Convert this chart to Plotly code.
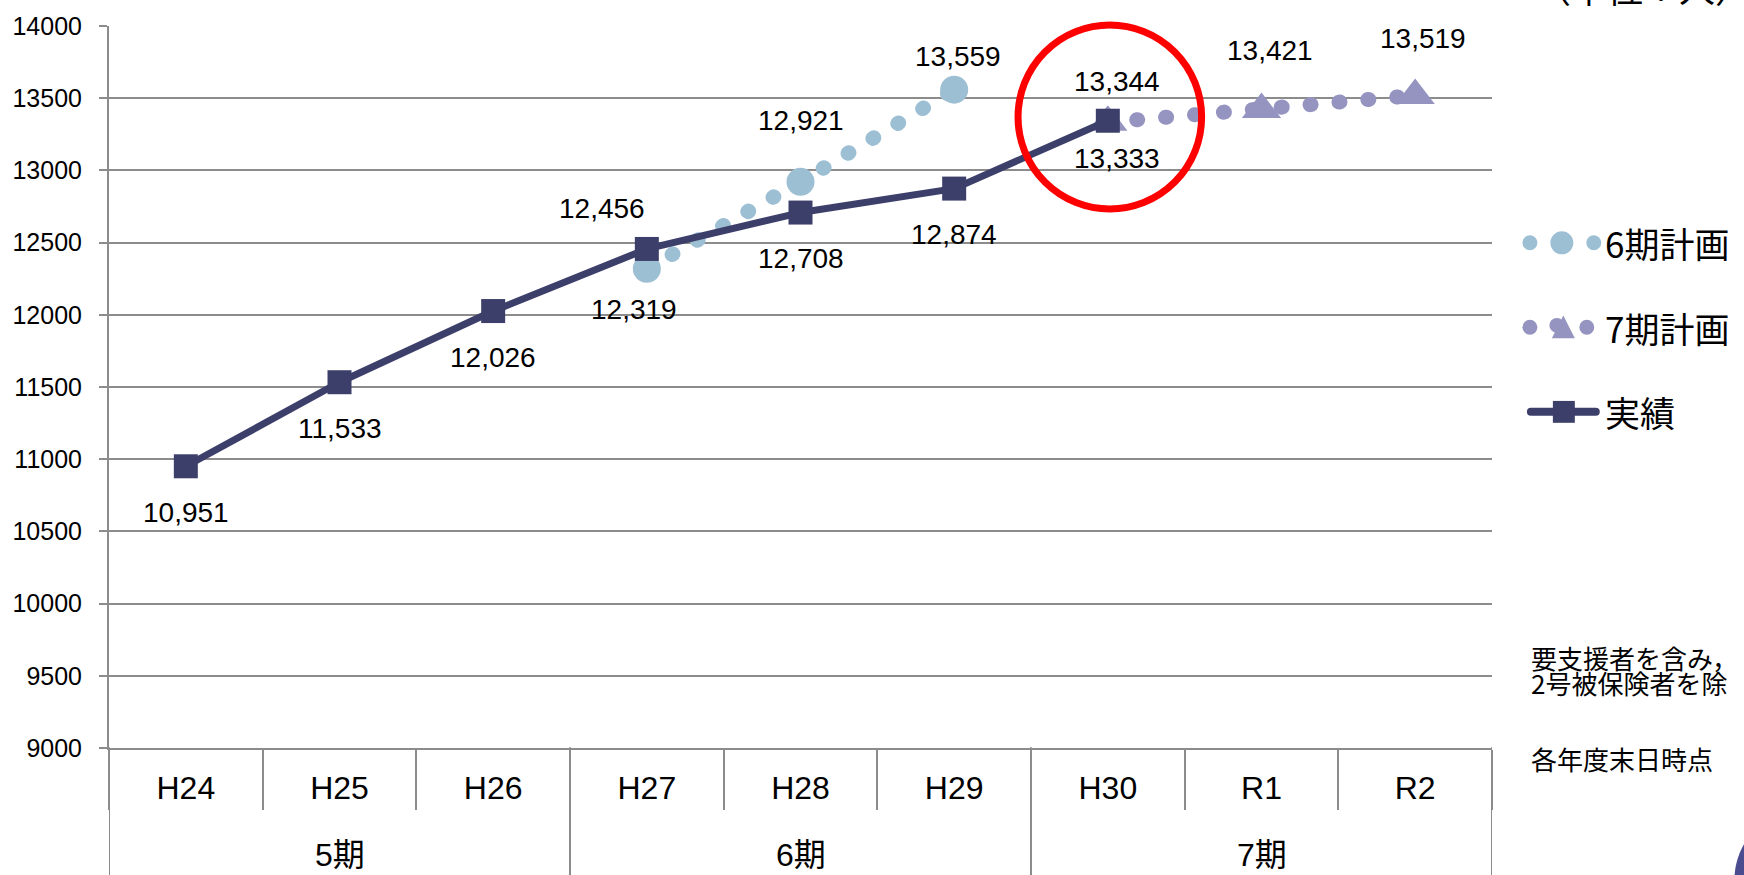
import plotly.graph_objects as go

# ---------------- data ----------------
years = ["H24", "H25", "H26", "H27", "H28", "H29", "H30", "R1", "R2"]
periods = ["5期", "5期", "5期", "6期", "6期", "6期", "7期", "7期", "7期"]

actual_years = ["H24", "H25", "H26", "H27", "H28", "H29", "H30"]
actual_values = [10951, 11533, 12026, 12456, 12708, 12874, 13344]

plan6_years = ["H27", "H28", "H29"]
plan6_values = [12319, 12921, 13559]

plan7_years = ["H30", "R1", "R2"]
plan7_values = [13333, 13421, 13519]

series_names = ["6期計画", "7期計画", "実績"]
note_lines = ["要支援者を含み，", "2号被保険者を除", "各年度末日時点"]
unit_text = "（単位：人）"

# label offsets (px) relative to the point: (xshift, yshift)
actual_label_shift = [(0, -46), (0, -46), (0, -46), (-45, 40), (0, -46), (0, -46), (9, 39)]
plan6_label_shift = [(-13, -41), (0, 61), (4, 33)]
plan7_label_shift = [(9, -36), (8, 59), (8, 57)]

# ---------------- style ----------------
C6 = "#9dbfd4"
C7 = "#9594c1"
CA = "#3d3f6b"
GRID = "#8c8c8c"
NUM_FONT = "Liberation Sans, Arial, Noto Sans CJK JP"
JP_FONT = "Noto Sans CJK JP, Liberation Sans"

W, H = 1744, 875
ML, MR, MT, MB = 106, 252, 22, 127
PW, PH = W - ML - MR, H - MT - MB


def PX(x):
    return (x - ML) / PW


def PY(y):
    return (H - MB - y) / PH


fig = go.Figure()

# category order trace (no marks)
fig.add_trace(go.Scatter(x=years, y=[None] * len(years), mode="markers",
                         showlegend=False, hoverinfo="skip"))

fig.add_trace(go.Scatter(
    x=plan6_years, y=plan6_values, name=series_names[0], mode="lines+markers",
    line=dict(color=C6, width=15, dash="1px,28px"),
    marker=dict(symbol="circle", size=28, color=C6), showlegend=False))

fig.add_trace(go.Scatter(
    x=plan7_years, y=plan7_values, name=series_names[1], mode="lines+markers",
    line=dict(color=C7, width=15, dash="1px,28px"),
    marker=dict(symbol="triangle-up", size=34, color=C7), showlegend=False))

fig.add_trace(go.Scatter(
    x=actual_years, y=actual_values, name=series_names[2], mode="lines+markers",
    line=dict(color=CA, width=7),
    marker=dict(symbol="square", size=24, color=CA), showlegend=False))

annotations = []
for ys, vals, shifts in [(actual_years, actual_values, actual_label_shift),
                         (plan6_years, plan6_values, plan6_label_shift),
                         (plan7_years, plan7_values, plan7_label_shift)]:
    for yr, v, (dx, dy) in zip(ys, vals, shifts):
        annotations.append(dict(x=yr, y=v, xref="x", yref="y", text=f"{v:,}",
                                showarrow=False, xshift=dx, yshift=dy,
                                font=dict(family=NUM_FONT, size=28, color="black")))

# period (group) labels and dividers, derived from the period list
shapes = []
groups = []
for i, p in enumerate(periods):
    if not groups or groups[-1][0] != p:
        groups.append([p, i, i])
    else:
        groups[-1][2] = i
for p, i0, i1 in groups:
    annotations.append(dict(x=(i0 + i1) / 2, y=PY(856), xref="x", yref="paper", text=p,
                            showarrow=False, yanchor="middle",
                            font=dict(family=NUM_FONT, size=32, color="black")))
bounds = [groups[0][1] - 0.5] + [g[2] + 0.5 for g in groups]
for b in bounds:
    shapes.append(dict(type="line", xref="x", yref="paper", x0=b, x1=b, y0=0, y1=PY(880),
                       line=dict(color=GRID, width=2)))

# legend texts
for name, yy in zip(series_names, [240, 325, 410]):
    annotations.append(dict(x=PX(1603), y=PY(yy), xref="paper", yref="paper", text=name,
                            showarrow=False, xanchor="left", yanchor="middle",
                            font=dict(family=JP_FONT, size=35, color="black")))

# notes
for line, yy in zip(note_lines, [657, 682, 759]):
    annotations.append(dict(x=PX(1529), y=PY(yy), xref="paper", yref="paper", text=line,
                            showarrow=False, xanchor="left", yanchor="middle",
                            font=dict(family=JP_FONT, size=26, color="black")))

annotations.append(dict(x=PX(1533), y=PY(-17), xref="paper", yref="paper", text=unit_text,
                        showarrow=False, xanchor="left", yanchor="middle",
                        font=dict(family=JP_FONT, size=36, color="black")))

# red highlight ellipse
shapes.append(dict(type="circle", xref="paper", yref="paper",
                   x0=PX(1017), x1=PX(1201), y0=PY(206), y1=PY(21),
                   line=dict(color="#ff0000", width=7)))


def dot(cx, cy, r, color):
    return dict(type="circle", xref="paper", yref="paper",
                x0=PX(cx - r), x1=PX(cx + r), y0=PY(cy + r), y1=PY(cy - r),
                fillcolor=color, line=dict(width=0))


# legend glyphs
shapes += [dot(1530, 240, 7.5, C6), dot(1562, 240, 11.5, C6), dot(1594, 240, 7.5, C6)]
shapes += [dot(1530, 325, 7.5, C7), dot(1557, 323, 7.5, C7), dot(1587, 325, 7.5, C7)]
shapes.append(dict(type="path", xref="paper", yref="paper",
                   path=f"M{PX(1552)},{PY(336)} L{PX(1575)},{PY(336)} L{PX(1563.5)},{PY(313)} Z",
                   fillcolor=C7, line=dict(width=0)))
shapes.append(dict(type="line", xref="paper", yref="paper",
                   x0=PX(1531), x1=PX(1596), y0=PY(410), y1=PY(410),
                   line=dict(color=CA, width=8)))
shapes.append(dict(type="rect", xref="paper", yref="paper",
                   x0=PX(1553), x1=PX(1575), y0=PY(421), y1=PY(399),
                   fillcolor=CA, line=dict(width=0)))
# page badge at bottom right edge
shapes.append(dict(type="circle", xref="paper", yref="paper",
                   x0=PX(1735), x1=PX(1875), y0=PY(950), y1=PY(810),
                   fillcolor="#4b4b8f", line=dict(width=0)))

fig.update_layout(
    width=W, height=H,
    margin=dict(l=ML, r=MR, t=MT, b=MB, pad=0),
    paper_bgcolor="white", plot_bgcolor="white",
    showlegend=False,
    annotations=annotations, shapes=shapes,
    xaxis=dict(type="category", range=[-0.5, 8.5], autorange=False,
               showgrid=False, showline=True, linecolor=GRID, linewidth=2,
               ticks="outside", tickson="boundaries", ticklen=60, tickcolor=GRID, tickwidth=2,
               ticklabelstandoff=11,
               tickfont=dict(family=NUM_FONT, size=32, color="black")),
    yaxis=dict(range=[9000, 14000], dtick=500, tick0=9000,
               tickformat="d", showgrid=True, gridcolor=GRID, gridwidth=2,
               showline=True, linecolor=GRID, linewidth=2, zeroline=False,
               ticks="outside", ticklen=8, tickcolor=GRID, tickwidth=2,
               ticklabelstandoff=12,
               tickfont=dict(family=NUM_FONT, size=25, color="black")),
)

css = ("document.body.style.margin='0';"
       "var s=document.createElement('style');"
       "s.innerHTML='body{margin:0}.js-line{stroke-linecap:round;stroke-linejoin:round}"
       " .shapelayer path{stroke-linecap:round}';"
       "document.head.appendChild(s);")

fig.write_html("out.html", post_script=css, config={"displayModeBar": False})
